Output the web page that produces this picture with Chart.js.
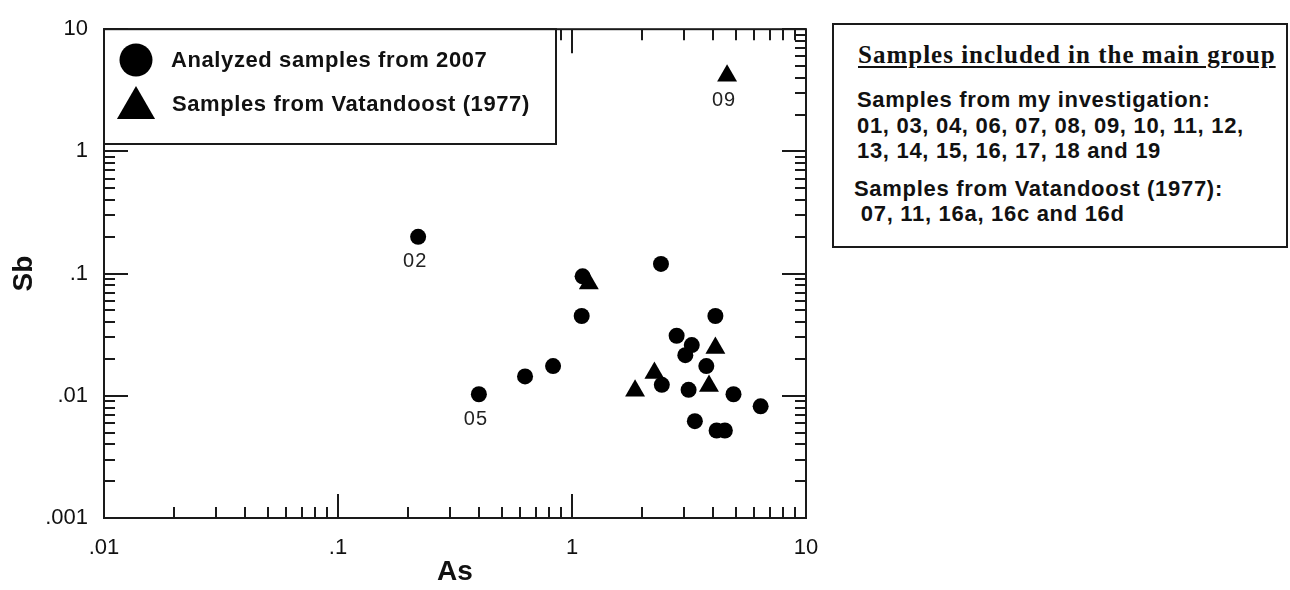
<!DOCTYPE html>
<html>
<head>
<meta charset="utf-8">
<script src="https://cdn.jsdelivr.net/npm/chart.js@4.4.0/dist/chart.umd.min.js"></script>
<style>
  html, body { margin: 0; padding: 0; background: #fff; }
  #wrap { position: relative; width: 1290px; height: 590px; overflow: hidden; }
  #chart { position: absolute; left: 0; top: 0; }
  #groupBox { position: absolute; left: 832px; top: 23px; width: 456px; height: 225px;
              border: 2px solid #1a1a1a; box-sizing: border-box; background: #fff; }
  .ln { position: absolute; white-space: pre; color: #111;
        font-family: "Liberation Sans", Arial, sans-serif; font-weight: bold;
        font-size: 22px; line-height: 22px; letter-spacing: 0.7px; }
  .ttl { font-family: "Liberation Serif", "Times New Roman", serif; font-size: 25px; line-height: 25px;
         letter-spacing: 1px; text-decoration: underline; text-decoration-thickness: 2px;
         text-underline-offset: 3px; }
</style>
</head>
<body>
<div id="wrap">
  <canvas id="chart" width="1290" height="590"></canvas>
  <div id="groupBox">
    <div class="ln ttl" style="left:24px; top:17px;">Samples included in the main group</div>
    <div class="ln" style="left:23px; top:64px;">Samples from my investigation:</div>
    <div class="ln" style="left:23px; top:90px;">01, 03, 04, 06, 07, 08, 09, 10, 11, 12,</div>
    <div class="ln" style="left:23px; top:115px;">13, 14, 15, 16, 17, 18 and 19</div>
    <div class="ln" style="left:20px; top:153px;">Samples from Vatandoost (1977):</div>
    <div class="ln" style="left:20px; top:178px;"> 07, 11, 16a, 16c and 16d</div>
  </div>
</div>
<script>
// axis decades and their labels
const xDecades = [0.01, 0.1, 1, 10];
const xTickLabels = ['.01', '.1', '1', '10'];
const yDecades = [0.001, 0.01, 0.1, 1, 10];
const yTickLabels = ['.001', '.01', '.1', '1', '10'];

const seriesNames = ['Analyzed samples from 2007', 'Samples from Vatandoost (1977)'];

// analyzed samples from 2007 (circles)
const as2007 = [0.22, 1.11, 2.4, 1.1, 4.1, 2.8, 3.25, 3.05, 3.75, 0.83, 0.63, 2.42, 3.15, 4.9, 0.4, 6.4, 3.35, 4.15, 4.5];
const sb2007 = [0.2, 0.095, 0.12, 0.045, 0.045, 0.031, 0.026, 0.0215, 0.0175, 0.0175, 0.0144, 0.0123, 0.0112, 0.0103, 0.0103, 0.0082, 0.0062, 0.0052, 0.0052];
const names2007 = ['02', '', '', '', '', '', '', '', '', '', '', '', '', '', '05', '', '', '', ''];

// samples from Vatandoost 1977 (triangles)
const asVat = [1.18, 2.25, 1.86, 3.85, 4.1, 4.6];
const sbVat = [0.083, 0.0154, 0.011, 0.012, 0.0246, 4.15];
const namesVat = ['', '', '', '', '', '09'];

const FONT = '"Liberation Sans", Arial, sans-serif';
const INK = '#111';
const MAJOR_TICK = 24;
const MINOR_TICK = 11;

function logTickValues(decades) {
    const vals = [];
    decades.forEach((d, i) => {
        if (i === decades.length - 1) {
            vals.push(d);
            return;
        }
        for (let k = 1; k <= 9; k++) {
            vals.push(Number((d * k).toPrecision(3)));
        }
    });
    return vals;
}

function decadeIndex(v, decades) {
    return decades.findIndex(d => Math.abs(v - d) / d < 1e-6);
}

function toPoints(xs, ys) {
    return xs.map((x, i) => ({ x, y: ys[i] }));
}

// inward ticks on all four sides plus the frame
const frameTicks = {
    id: 'frameTicks',
    afterDatasetsDraw(chart) {
        const { ctx, chartArea: a, scales: { x, y } } = chart;
        ctx.save();
        ctx.strokeStyle = '#1a1a1a';
        ctx.lineWidth = 2;
        ctx.beginPath();
        x.ticks.forEach(t => {
            const px = Math.round(x.getPixelForValue(t.value));
            const len = decadeIndex(t.value, xDecades) >= 0 ? MAJOR_TICK : MINOR_TICK;
            ctx.moveTo(px, a.bottom);
            ctx.lineTo(px, a.bottom - len);
            ctx.moveTo(px, a.top);
            ctx.lineTo(px, a.top + len);
        });
        y.ticks.forEach(t => {
            const py = Math.round(y.getPixelForValue(t.value));
            const len = decadeIndex(t.value, yDecades) >= 0 ? MAJOR_TICK : MINOR_TICK;
            ctx.moveTo(a.left, py);
            ctx.lineTo(a.left + len, py);
            ctx.moveTo(a.right, py);
            ctx.lineTo(a.right - len, py);
        });
        ctx.stroke();
        ctx.strokeRect(a.left, a.top, a.right - a.left, a.bottom - a.top);
        ctx.restore();
    }
};

// boxed legend in the upper left corner of the plot
const legendBox = {
    id: 'legendBox',
    afterDatasetsDraw(chart) {
        const { ctx, chartArea: a } = chart;
        const L = a.left, T = a.top, R = 556, B = 144;
        ctx.save();
        ctx.fillStyle = '#fff';
        ctx.fillRect(L, T, R - L, B - T);
        ctx.lineWidth = 2;
        ctx.strokeStyle = '#1a1a1a';
        ctx.strokeRect(L, T, R - L, B - T);

        ctx.fillStyle = '#000';
        ctx.beginPath();
        ctx.arc(136, 60, 16.5, 0, Math.PI * 2);
        ctx.fill();

        const r = 22, cx = 136, cy = 108;
        ctx.beginPath();
        ctx.moveTo(cx, cy - r);
        ctx.lineTo(cx + r * Math.sqrt(3) / 2, cy + r / 2);
        ctx.lineTo(cx - r * Math.sqrt(3) / 2, cy + r / 2);
        ctx.closePath();
        ctx.fill();

        ctx.fillStyle = INK;
        ctx.font = 'bold 22px ' + FONT;
        ctx.letterSpacing = '0.6px';
        ctx.textAlign = 'left';
        ctx.textBaseline = 'alphabetic';
        ctx.fillText(seriesNames[0], 171, 67);
        ctx.fillText(seriesNames[1], 172, 111);
        ctx.restore();
    }
};

// sample numbers under a few points
const pointNames = {
    id: 'pointNames',
    afterDatasetsDraw(chart) {
        const { ctx } = chart;
        const nameSets = [names2007, namesVat];
        ctx.save();
        ctx.fillStyle = '#222';
        ctx.font = '20px ' + FONT;
        ctx.letterSpacing = '1px';
        ctx.textAlign = 'center';
        ctx.textBaseline = 'middle';
        nameSets.forEach((names, di) => {
            const meta = chart.getDatasetMeta(di);
            meta.data.forEach((el, i) => {
                if (names[i]) ctx.fillText(names[i], el.x - 3, el.y + 25);
            });
        });
        ctx.restore();
    }
};

const tickFont = { family: FONT, size: 22 };
const titleFont = { family: FONT, size: 28, weight: 'bold' };

new Chart(document.getElementById('chart'), {
    type: 'scatter',
    data: {
        datasets: [{
            label: seriesNames[0],
            data: toPoints(as2007, sb2007),
            pointStyle: 'circle',
            pointRadius: 8,
            pointHoverRadius: 8,
            backgroundColor: '#000',
            borderWidth: 0
        }, {
            label: seriesNames[1],
            data: toPoints(asVat, sbVat),
            pointStyle: 'triangle',
            pointRadius: 11.5,
            pointHoverRadius: 11.5,
            backgroundColor: '#000',
            borderWidth: 0
        }]
    },
    options: {
        responsive: false,
        animation: false,
        devicePixelRatio: 1,
        events: [],
        layout: { padding: { left: 0, top: 24, right: 484, bottom: 0 } },
        plugins: {
            legend: { display: false },
            tooltip: { enabled: false }
        },
        scales: {
            x: {
                type: 'logarithmic',
                position: 'bottom',
                min: xDecades[0],
                max: xDecades[xDecades.length - 1],
                afterBuildTicks: s => { s.ticks = logTickValues(xDecades).map(v => ({ value: v })); },
                afterFit: s => { s.height = 72; },
                grid: { display: false, drawTicks: false },
                border: { display: false },
                ticks: {
                    autoSkip: false,
                    maxRotation: 0,
                    padding: 17,
                    font: tickFont,
                    color: INK,
                    callback: v => {
                        const i = decadeIndex(v, xDecades);
                        return i >= 0 ? xTickLabels[i] : '';
                    }
                },
                title: { display: true, text: 'As', font: titleFont, color: INK, padding: { top: 0, bottom: 1 } }
            },
            y: {
                type: 'logarithmic',
                position: 'left',
                min: yDecades[0],
                max: yDecades[yDecades.length - 1],
                afterBuildTicks: s => { s.ticks = logTickValues(yDecades).map(v => ({ value: v })); },
                afterFit: s => { s.width = 104; },
                grid: { display: false, drawTicks: false },
                border: { display: false },
                ticks: {
                    autoSkip: false,
                    padding: 16,
                    font: tickFont,
                    color: INK,
                    callback: v => {
                        const i = decadeIndex(v, yDecades);
                        return i >= 0 ? yTickLabels[i] : '';
                    }
                },
                title: { display: true, text: 'Sb', font: titleFont, color: INK, padding: { top: 7, bottom: 0 } }
            }
        }
    },
    plugins: [frameTicks, legendBox, pointNames]
});
</script>
</body>
</html>
